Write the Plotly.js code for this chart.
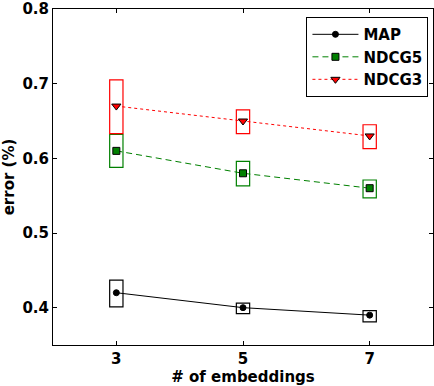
<!DOCTYPE html>
<html>
<head>
<meta charset="utf-8">
<script src="https://cdn.plot.ly/plotly-3.0.1.min.js"></script>
<style>html,body{margin:0;padding:0;background:#fff;}#chart{width:434px;height:386px;}</style>
</head>
<body>
<div id="chart"></div>
<script>
const embeddings = [3, 5, 7];
const tickLabels = ['3', '5', '7'];
const yTickValues = [0.4, 0.5, 0.6, 0.7, 0.8];
const yTickLabels = ['0.4', '0.5', '0.6', '0.7', '0.8'];
const mapValues = [0.42, 0.40, 0.39];
const mapBoxLow = [0.401, 0.392, 0.381];
const mapBoxHigh = [0.437, 0.406, 0.396];
const ndcg5Values = [0.61, 0.58, 0.56];
const ndcg5BoxLow = [0.588, 0.563, 0.547];
const ndcg5BoxHigh = [0.632, 0.596, 0.571];
const ndcg3Values = [0.67, 0.65, 0.63];
const ndcg3BoxLow = [0.633, 0.633, 0.613];
const ndcg3BoxHigh = [0.705, 0.665, 0.645];

const boxHalfWidth = 0.105;
const FONT = 'DejaVu Sans, Bitstream Vera Sans, sans-serif';

function boxes(lows, highs, color) {
  return embeddings.map((x, i) => ({
    type: 'rect', xref: 'x', yref: 'y', layer: 'below',
    x0: x - boxHalfWidth, x1: x + boxHalfWidth, y0: lows[i], y1: highs[i],
    line: {color: color, width: 1.2}, fillcolor: 'rgba(0,0,0,0)'
  }));
}

const traces = [
  {x: embeddings, y: mapValues, name: 'MAP', mode: 'lines+markers', type: 'scatter',
   line: {color: '#000000', width: 1, dash: 'solid'},
   marker: {symbol: 'circle', size: 6, color: '#000000', line: {color: '#000000', width: 1}}},
  {x: embeddings, y: ndcg5Values, name: 'NDCG5', mode: 'lines+markers', type: 'scatter',
   line: {color: '#008000', width: 1, dash: '6px,4px'},
   marker: {symbol: 'square', size: 7, color: '#008000', line: {color: '#000000', width: 1}}},
  {x: embeddings, y: ndcg3Values, name: 'NDCG3', mode: 'lines+markers', type: 'scatter',
   line: {color: '#ff0000', width: 1, dash: 'dot'},
   marker: {symbol: 'triangle-down', size: 8, color: '#ff0000', line: {color: '#000000', width: 1}}}
];

const axisCommon = {
  showgrid: false, zeroline: false, showline: true, linecolor: '#000', linewidth: 1,
  mirror: 'ticks', ticks: 'inside', ticklen: 4, tickcolor: '#000', tickwidth: 1,
  tickfont: {family: FONT, size: 15, color: '#000', weight: 'bold'}
};

const layout = {
  width: 434, height: 386,
  margin: {l: 53, r: 1, t: 9, b: 41},
  paper_bgcolor: '#fff', plot_bgcolor: '#fff',
  showlegend: true,
  legend: {
    x: 0.988, y: 0.976, xanchor: 'right', yanchor: 'top',
    bordercolor: '#000', borderwidth: 1, bgcolor: '#fff',
    font: {family: FONT, size: 15, color: '#000', weight: 'bold'},
    tracegroupgap: 0, itemwidth: 46
  },
  xaxis: Object.assign({}, axisCommon, {
    range: [2, 8], tickvals: embeddings, ticktext: tickLabels,
    title: {text: '# of embeddings', font: {family: FONT, size: 15, color: '#000', weight: 'bold'}, standoff: 3}
  }),
  yaxis: Object.assign({}, axisCommon, {
    range: [0.35, 0.80001], tickvals: yTickValues, ticktext: yTickLabels,
    title: {text: 'error (%)', font: {family: FONT, size: 15, color: '#000', weight: 'bold'}, standoff: 6}
  }),
  shapes: [].concat(
    boxes(mapBoxLow, mapBoxHigh, '#000000'),
    boxes(ndcg5BoxLow, ndcg5BoxHigh, '#008000'),
    boxes(ndcg3BoxLow, ndcg3BoxHigh, '#ff0000')
  )
};

Plotly.newPlot('chart', traces, layout, {staticPlot: true, displayModeBar: false});
</script>
</body>
</html>
